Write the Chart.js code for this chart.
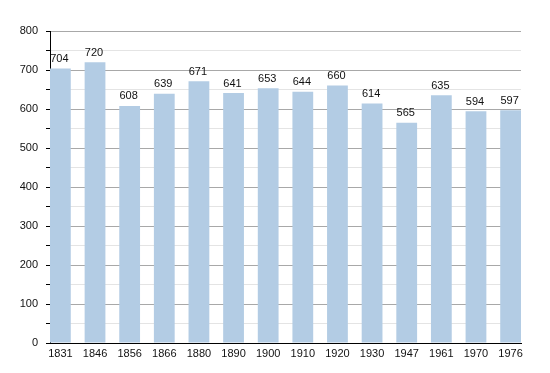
<!DOCTYPE html>
<html>
<head>
<meta charset="utf-8">
<script src="https://cdn.jsdelivr.net/npm/chart.js@4"></script>
<style>
html,body{margin:0;padding:0;background:#fff;}
canvas{display:block;}
</style>
</head>
<body>
<canvas id="c" width="550" height="373"></canvas>
<script>
const years = ["1831","1846","1856","1866","1880","1890","1900","1910","1920","1930","1947","1961","1970","1976"];
const population = [704,720,608,639,671,641,653,644,660,614,565,635,594,597];
const yTicks = [0,100,200,300,400,500,600,700,800];

const FONT = "'Liberation Sans', Arial, sans-serif";

const valueLabels = {
  id: 'valueLabels',
  afterDatasetsDraw(chart) {
    const ctx = chart.ctx;
    const meta = chart.getDatasetMeta(0);
    ctx.save();
    ctx.font = "11px " + FONT;
    ctx.fillStyle = "#111";
    ctx.textAlign = "center";
    ctx.textBaseline = "bottom";
    meta.data.forEach((el, i) => {
      ctx.fillText(String(population[i]), el.x - 1, el.y - 4);
    });
    ctx.restore();
  }
};

new Chart(document.getElementById('c'), {
  type: 'bar',
  data: {
    datasets: [{
      data: population.map((v, i) => ({x: i, y: v})),
      backgroundColor: '#b3cce4',
      borderWidth: 0,
      barPercentage: 0.6,
      categoryPercentage: 1.0
    }]
  },
  plugins: [valueLabels],
  options: {
    responsive: false,
    animation: false,
    devicePixelRatio: 1,
    layout: {padding: {top: 31, right: 29, left: 0, bottom: 0}},
    plugins: {legend: {display: false}, tooltip: {enabled: false}},
    scales: {
      x: {
        type: 'linear',
        offset: false,
        min: -0.3,
        max: 13.3,
        afterBuildTicks(scale) {
          scale.ticks = years.map((y, i) => ({value: i}));
        },
        afterFit(scale) { scale.height = 30; },
        grid: {display: false, drawTicks: false, offset: false},
        border: {display: true, color: '#000', width: 1},
        ticks: {
          autoSkip: false,
          maxRotation: 0,
          padding: 4,
          color: '#111',
          font: {family: FONT, size: 11},
          callback: (v) => years[v] !== undefined ? years[v] : ''
        }
      },
      y: {
        min: 0,
        max: 800,
        afterFit(scale) { scale.width = 50; },
        afterBuildTicks(scale) {
          const t = [];
          for (let v = 0; v <= 800; v += 50) t.push({value: v});
          scale.ticks = t;
        },
        grid: {
          color: (c) => (c.tick && c.tick.value % 100 === 0) ? '#a8a8a8' : '#e4e4e4',
          tickColor: '#000',
          tickLength: 4,
          drawTicks: true
        },
        border: {display: true, color: '#000', width: 1},
        ticks: {
          padding: 8,
          color: '#111',
          font: {family: FONT, size: 11},
          callback: (v) => yTicks.includes(v) ? String(v) : ''
        }
      }
    }
  }
});
</script>
</body>
</html>
